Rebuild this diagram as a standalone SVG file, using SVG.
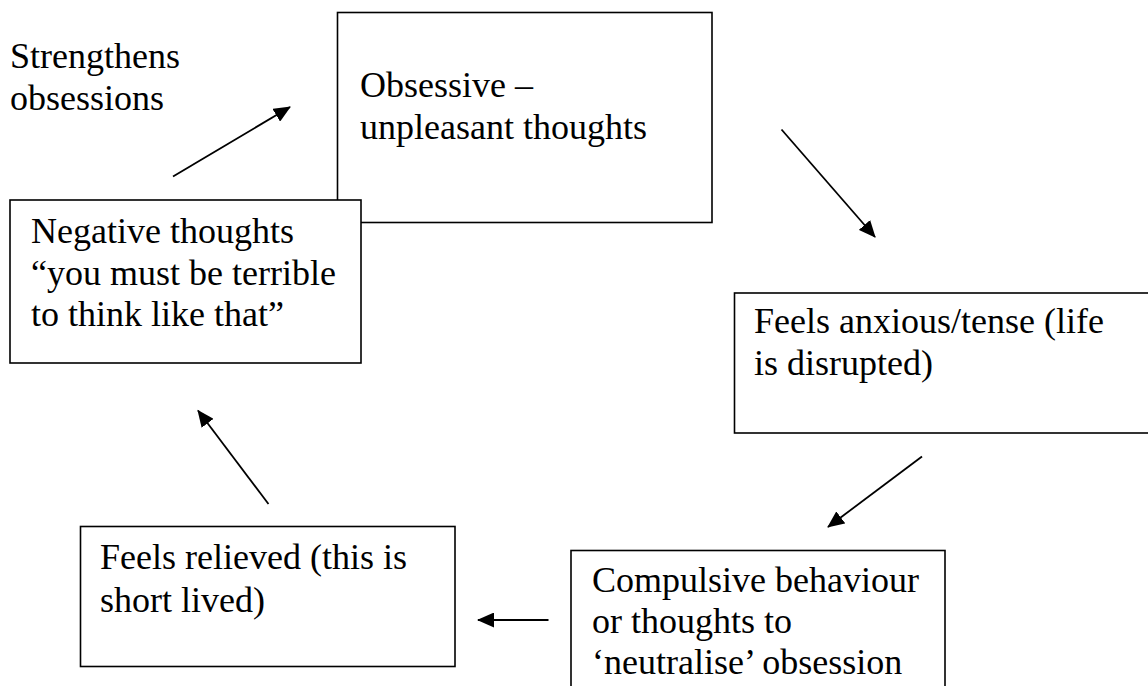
<svg xmlns="http://www.w3.org/2000/svg" width="1148" height="686" viewBox="0 0 1148 686">
<style>
.box{fill:#fff;stroke:#000;stroke-width:1.6}
.t{font-family:'Liberation Serif','Times New Roman',serif;font-size:36px;fill:#000}
.c line{stroke:#000;stroke-width:1.8}
</style>
<defs>
<marker id="ah" markerUnits="userSpaceOnUse" markerWidth="18" markerHeight="15" refX="16" refY="7.5" orient="auto">
<path d="M0,0 L17,7.5 L0,15 z" fill="#000"/>
</marker>
</defs>
<rect width="1148" height="686" fill="#fff"/>
<g id="label-strengthens">
<text class="t" x="10" y="68">Strengthens</text>
<text class="t" x="10" y="110">obsessions</text>
</g>
<g id="node-obsessive">
<rect class="box" x="337.5" y="12.5" width="374.5" height="210"/>
<text class="t" x="360" y="97">Obsessive –</text>
<text class="t" x="360" y="139">unpleasant thoughts</text>
</g>
<g id="node-negative">
<rect class="box" x="10" y="200" width="351" height="163"/>
<text class="t" x="31" y="243">Negative thoughts</text>
<text class="t" x="31" y="284.5">“you must be terrible</text>
<text class="t" x="31" y="326">to think like that”</text>
</g>
<g id="node-anxious">
<rect class="box" x="734.5" y="293" width="430" height="140"/>
<text class="t" x="754" y="333">Feels anxious/tense (life</text>
<text class="t" x="754" y="375">is disrupted)</text>
</g>
<g id="node-compulsive">
<rect class="box" x="571" y="550.5" width="374" height="160"/>
<text class="t" x="592" y="591.5">Compulsive behaviour</text>
<text class="t" x="592" y="632.5">or thoughts to</text>
<text class="t" x="592" y="673.5">‘neutralise’ obsession</text>
</g>
<g id="node-relieved">
<rect class="box" x="80.5" y="526.5" width="374.5" height="140"/>
<text class="t" x="100" y="569">Feels relieved (this is</text>
<text class="t" x="100" y="611.5">short lived)</text>
</g>
<g id="connectors" class="c">
<line x1="173" y1="176.5" x2="290" y2="107" marker-end="url(#ah)"/>
<line x1="781.5" y1="129.5" x2="875" y2="237" marker-end="url(#ah)"/>
<line x1="922" y1="456.5" x2="828" y2="527" marker-end="url(#ah)"/>
<line x1="548.5" y1="620" x2="478" y2="620" marker-end="url(#ah)"/>
<line x1="268.5" y1="504" x2="198" y2="410.5" marker-end="url(#ah)"/>
</g>
</svg>
